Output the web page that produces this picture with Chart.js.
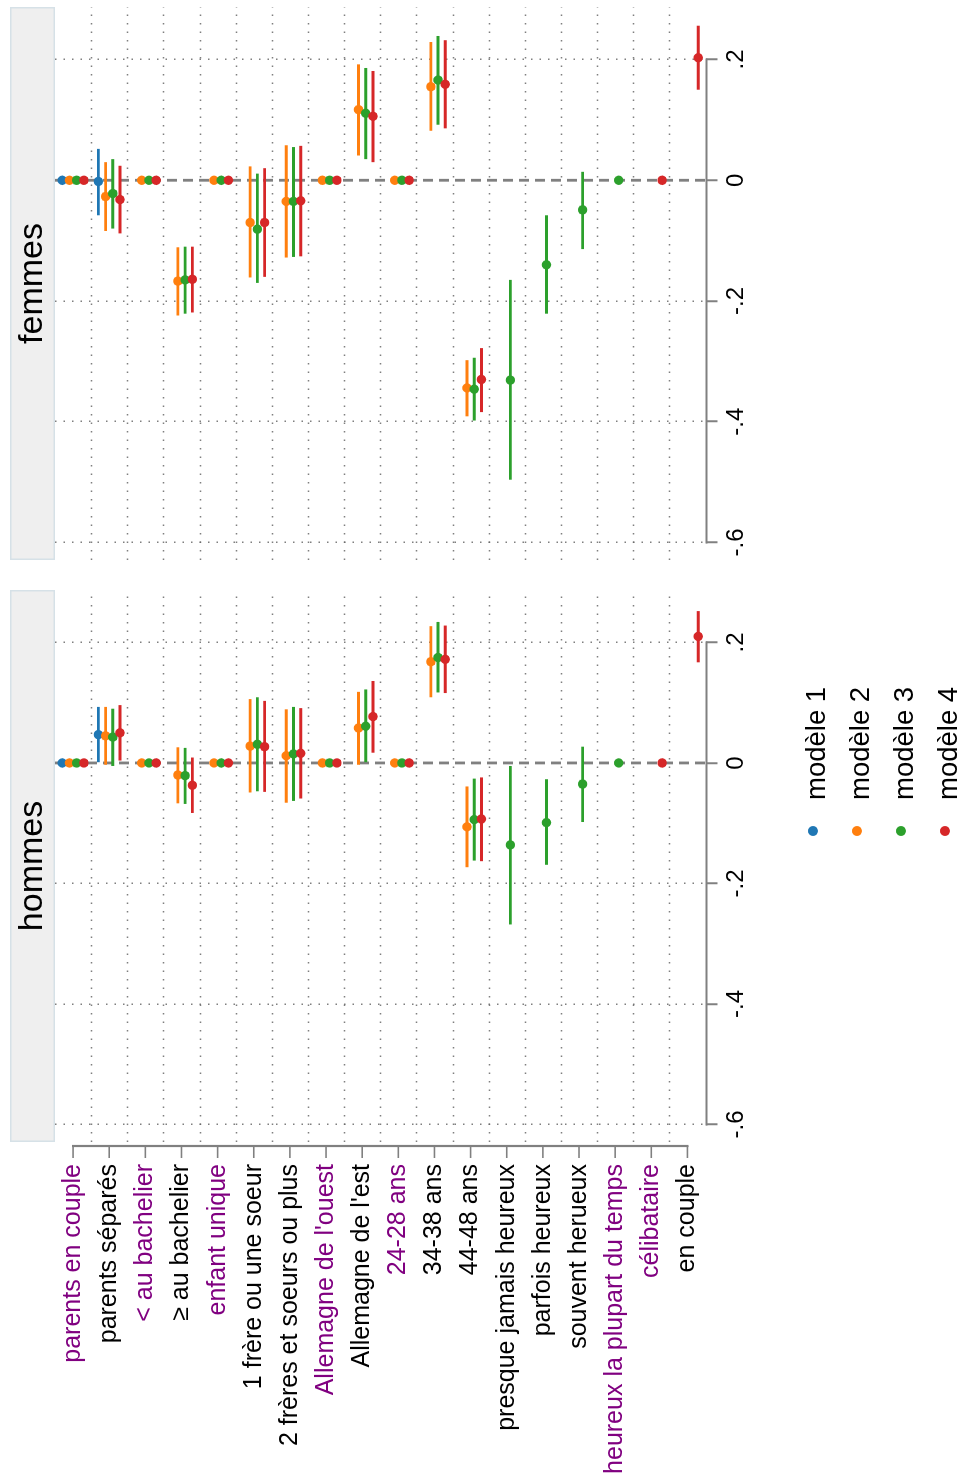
<!DOCTYPE html>
<html lang="fr">
<head>
<meta charset="utf-8">
<title>Coefficients par modèle — hommes et femmes</title>
<script src="https://cdn.jsdelivr.net/npm/chart.js@4.4.1/dist/chart.umd.min.js"></script>
<style>
  html, body { margin: 0; padding: 0; background: #fff; }
  body { width: 964px; height: 1476px; overflow: hidden; position: relative; }
  /* the figure is laid out landscape and turned a quarter turn */
  #stage { position: absolute; left: 0; top: 0; width: 1476px; height: 964px;
           transform-origin: 0 0; transform: translateY(1476px) rotate(-90deg); background: #fff; }
  #stage canvas { position: absolute; top: 0; }
  #cHommes { left: 0; }
  #cFemmes { left: 900px; }
  .legend { position: absolute; left: 0; top: 0; font-family: 'Liberation Sans', Arial, Helvetica, sans-serif;
            font-size: 27.5px; line-height: 1; color: #000; }
  .legend .txt { position: absolute; white-space: nowrap; }
  .legend .dot { position: absolute; width: 10px; height: 10px; border-radius: 50%; }
</style>
</head>
<body>
<div id="stage">
  <canvas id="cHommes" width="900" height="964"></canvas>
  <canvas id="cFemmes" width="576" height="964"></canvas>
  <div class="legend" id="legend"></div>
</div>
<script>
const categories = [
  'parents en couple', 'parents séparés', '< au bachelier', '≥ au bachelier', 'enfant unique',
  '1 frère ou une soeur', '2 frères et soeurs ou plus', "Allemagne de l'ouest", "Allemagne de l'est",
  '24-28 ans', '34-38 ans', '44-48 ans', 'presque jamais heureux', 'parfois heureux',
  'souvent herueux', 'heureux la plupart du temps', 'célibataire', 'en couple'
];
// reference levels are printed in purple
const referenceRows = [true, false, true, false, true, false, false, true, false,
                       true, false, false, false, false, false, true, true, false];
const modelNames = ['modèle 1', 'modèle 2', 'modèle 3', 'modèle 4'];
const modelColors = ['#1f77b4', '#ff7f0e', '#2ca02c', '#d62728'];
const panelTitles = ['hommes', 'femmes'];
const valueTicks = [-0.6, -0.4, -0.2, 0, 0.2];
const valueTickLabels = ['-.6', '-.4', '-.2', '0', '.2'];

const N = null;
// estimates, one row per model, one column per category
const hommesEst = [
  [0, 0.047, N, N, N, N, N, N, N, N, N, N, N, N, N, N, N, N],
  [0, 0.045, 0, -0.020, 0, 0.028, 0.012, 0, 0.058, 0, 0.168, -0.106, N, N, N, N, N, N],
  [0, 0.043, 0, -0.021, 0, 0.031, 0.015, 0, 0.061, 0, 0.175, -0.094, -0.136, -0.099, -0.035, 0, N, N],
  [0, 0.050, 0, -0.037, 0, 0.027, 0.016, 0, 0.077, 0, 0.172, -0.093, N, N, N, N, 0, 0.210]
];
const hommesLo = [
  [N, 0.000, N, N, N, N, N, N, N, N, N, N, N, N, N, N, N, N],
  [N, -0.003, N, -0.067, N, -0.049, -0.066, N, -0.003, N, 0.109, -0.173, N, N, N, N, N, N],
  [N, -0.005, N, -0.068, N, -0.047, -0.063, N, 0.000, N, 0.117, -0.162, -0.268, -0.169, -0.098, N, N, N],
  [N, 0.004, N, -0.083, N, -0.048, -0.059, N, 0.017, N, 0.116, -0.163, N, N, N, N, N, 0.167]
];
const hommesHi = [
  [N, 0.093, N, N, N, N, N, N, N, N, N, N, N, N, N, N, N, N],
  [N, 0.093, N, 0.026, N, 0.106, 0.089, N, 0.118, N, 0.227, -0.039, N, N, N, N, N, N],
  [N, 0.090, N, 0.025, N, 0.109, 0.093, N, 0.122, N, 0.234, -0.026, -0.005, -0.027, 0.027, N, N, N],
  [N, 0.096, N, 0.009, N, 0.103, 0.091, N, 0.136, N, 0.228, -0.024, N, N, N, N, N, 0.252]
];
const femmesEst = [
  [0, -0.002, N, N, N, N, N, N, N, N, N, N, N, N, N, N, N, N],
  [0, -0.027, 0, -0.167, 0, -0.070, -0.035, 0, 0.117, 0, 0.155, -0.344, N, N, N, N, N, N],
  [0, -0.022, 0, -0.165, 0, -0.081, -0.035, 0, 0.111, 0, 0.166, -0.346, -0.331, -0.140, -0.049, 0, N, N],
  [0, -0.032, 0, -0.164, 0, -0.070, -0.034, 0, 0.106, 0, 0.159, -0.330, N, N, N, N, 0, 0.203]
];
const femmesLo = [
  [N, -0.058, N, N, N, N, N, N, N, N, N, N, N, N, N, N, N, N],
  [N, -0.084, N, -0.224, N, -0.161, -0.128, N, 0.041, N, 0.082, -0.391, N, N, N, N, N, N],
  [N, -0.080, N, -0.221, N, -0.170, -0.127, N, 0.035, N, 0.092, -0.398, -0.496, -0.221, -0.114, N, N, N],
  [N, -0.088, N, -0.219, N, -0.160, -0.126, N, 0.030, N, 0.086, -0.384, N, N, N, N, N, 0.150]
];
const femmesHi = [
  [N, 0.052, N, N, N, N, N, N, N, N, N, N, N, N, N, N, N, N],
  [N, 0.030, N, -0.111, N, 0.023, 0.058, N, 0.192, N, 0.229, -0.298, N, N, N, N, N, N],
  [N, 0.035, N, -0.110, N, 0.011, 0.055, N, 0.186, N, 0.239, -0.294, -0.165, -0.058, 0.014, N, N, N],
  [N, 0.024, N, -0.110, N, 0.020, 0.057, N, 0.181, N, 0.232, -0.278, N, N, N, N, N, 0.256]
];

const FONT = "'Liberation Sans', Arial, Helvetica, sans-serif";
const PURPLE = '#800080';
const AXIS_GRAY = '#808080';
const DOT_GRAY = 'rgba(105,105,105,0.85)';
const DOTS = [1.5, 7.0];
const rowOffsets = [-0.3, -0.1, 0.1, 0.3];   // models side by side inside a category band

function buildDatasets(est, lo, hi) {
  const sets = [];
  est.forEach((vals, m) => {
    const bars = [];
    vals.forEach((v, i) => {
      if (lo[m][i] !== null) bars.push({ x: [lo[m][i], hi[m][i]], y: i + rowOffsets[m] });
    });
    sets.push({ type: 'bar', label: modelNames[m] + ' (IC)', data: bars, backgroundColor: modelColors[m],
                borderWidth: 0, grouped: false, maxBarThickness: 2.9, order: 8 - m });
  });
  est.forEach((vals, m) => {
    const pts = [];
    vals.forEach((v, i) => { if (v !== null) pts.push({ x: v, y: i + rowOffsets[m] }); });
    sets.push({ type: 'scatter', label: modelNames[m], data: pts, backgroundColor: modelColors[m],
                borderWidth: 0, pointRadius: 4.7, pointHoverRadius: 4.7, order: 4 - m });
  });
  return sets;
}

// header strip, category separators, zero reference and Stata-like axis lines
const panelDecor = {
  id: 'panelDecor',
  beforeDraw(chart) {
    const t = chart.titleBlock;
    const ctx = chart.ctx;
    ctx.save();
    ctx.fillStyle = '#efefef';
    ctx.fillRect(t.left, t.top, t.width, t.height);
    ctx.strokeStyle = '#d6e1e7';
    ctx.lineWidth = 1.5;
    ctx.strokeRect(t.left + 0.75, t.top + 0.75, t.width - 1.5, t.height - 1.5);
    ctx.restore();
  },
  beforeDatasetsDraw(chart, args, opts) {
    const { ctx, chartArea: a, scales: { x, y } } = chart;
    ctx.save();
    ctx.strokeStyle = DOT_GRAY;
    ctx.lineWidth = 1.5;
    ctx.setLineDash(DOTS);
    for (let i = 0; i < categories.length - 1; i++) {
      const py = Math.round(y.getPixelForValue(i + 0.5)) + 0.5;
      ctx.beginPath(); ctx.moveTo(a.left, py); ctx.lineTo(a.right, py); ctx.stroke();
    }
    // zero line
    const x0 = x.getPixelForValue(0);
    ctx.strokeStyle = AXIS_GRAY;
    ctx.lineWidth = 2.8;
    ctx.setLineDash([10, 6]);
    ctx.beginPath(); ctx.moveTo(x0, a.top); ctx.lineTo(x0, a.bottom); ctx.stroke();
    ctx.setLineDash([]);
    // value axis spans only the labelled range
    ctx.lineWidth = 2.2;
    const ya = a.bottom + 1;
    ctx.beginPath();
    ctx.moveTo(x.getPixelForValue(valueTicks[0]) - 1, ya);
    ctx.lineTo(x.getPixelForValue(valueTicks[valueTicks.length - 1]) + 1, ya);
    ctx.stroke();
    if (opts.categoryAxis) {
      const xa = a.left - 4;
      const yFirst = y.getPixelForValue(0), yLast = y.getPixelForValue(categories.length - 1);
      ctx.beginPath(); ctx.moveTo(xa, yFirst - 1); ctx.lineTo(xa, yLast + 1); ctx.stroke();
      ctx.lineWidth = 1.6;
      categories.forEach((c, i) => {
        const py = y.getPixelForValue(i);
        ctx.beginPath(); ctx.moveTo(xa, py); ctx.lineTo(xa - 12, py); ctx.stroke();
      });
    }
    ctx.restore();
  }
};

function makeOptions(p) {
  const left = p === 0;
  const yScale = {
    type: 'linear', min: -0.5, max: categories.length - 0.5, reverse: true, offset: false, display: left,
    afterBuildTicks: s => { s.ticks = categories.map((c, i) => ({ value: i })); },
    grid: { drawOnChartArea: false, drawTicks: false, offset: false },
    border: { display: false },
    ticks: { callback: v => categories[v], color: c => referenceRows[c.index] ? PURPLE : '#000',
             font: { family: FONT, size: 25 }, padding: 22, autoSkip: false }
  };
  if (left) yScale.afterFit = s => { s.width = 334; };
  return {
    responsive: false,
    animation: false,
    events: [],
    indexAxis: 'y',
    layout: { padding: left ? { top: 10, bottom: 198.5, left: 0, right: 14 }
                            : { top: 10, bottom: 198.5, left: 16, right: 7 } },
    plugins: {
      legend: { display: false },
      tooltip: { enabled: false },
      panelDecor: { categoryAxis: left },
      title: { display: true, text: panelTitles[p], fullSize: false, color: '#000',
               font: { family: FONT, size: 34, weight: 'normal', lineHeight: 1 },
               padding: { top: 5.5, bottom: 5.5 } }
    },
    scales: {
      x: {
        type: 'linear', min: -0.629, max: 0.287, offset: false,
        afterBuildTicks: s => { s.ticks = valueTicks.map(v => ({ value: v })); },
        afterFit: s => { s.height = 60; },
        grid: { color: c => (c.tick && c.tick.value === 0) ? 'rgba(0,0,0,0)' : DOT_GRAY,
                lineWidth: 1.5, drawTicks: true, tickLength: 12, tickWidth: 2, tickColor: AXIS_GRAY },
        border: { display: false, dash: DOTS },
        ticks: { callback: (v, i) => valueTickLabels[i], color: '#000', padding: 4,
                 font: { family: FONT, size: 24 }, maxRotation: 0, autoSkip: false }
      },
      y: yScale
    }
  };
}

new Chart(document.getElementById('cHommes'), {
  type: 'bar',
  data: { datasets: buildDatasets(hommesEst, hommesLo, hommesHi) },
  options: makeOptions(0),
  plugins: [panelDecor]
});
new Chart(document.getElementById('cFemmes'), {
  type: 'bar',
  data: { datasets: buildDatasets(femmesEst, femmesLo, femmesHi) },
  options: makeOptions(1),
  plugins: [panelDecor]
});

// legend: one row per model
const legend = document.getElementById('legend');
modelNames.forEach((name, m) => {
  const rowY = 813 + 44 * m;
  const dot = document.createElement('span');
  dot.className = 'dot';
  dot.style.left = (645.4 - 5) + 'px';
  dot.style.top = (rowY - 5) + 'px';
  dot.style.background = modelColors[m];
  legend.appendChild(dot);
  const txt = document.createElement('span');
  txt.className = 'txt';
  txt.textContent = name;
  txt.style.left = '676px';
  txt.style.top = (rowY + 12 - 23.3) + 'px';
  legend.appendChild(txt);
});
</script>
</body>
</html>
